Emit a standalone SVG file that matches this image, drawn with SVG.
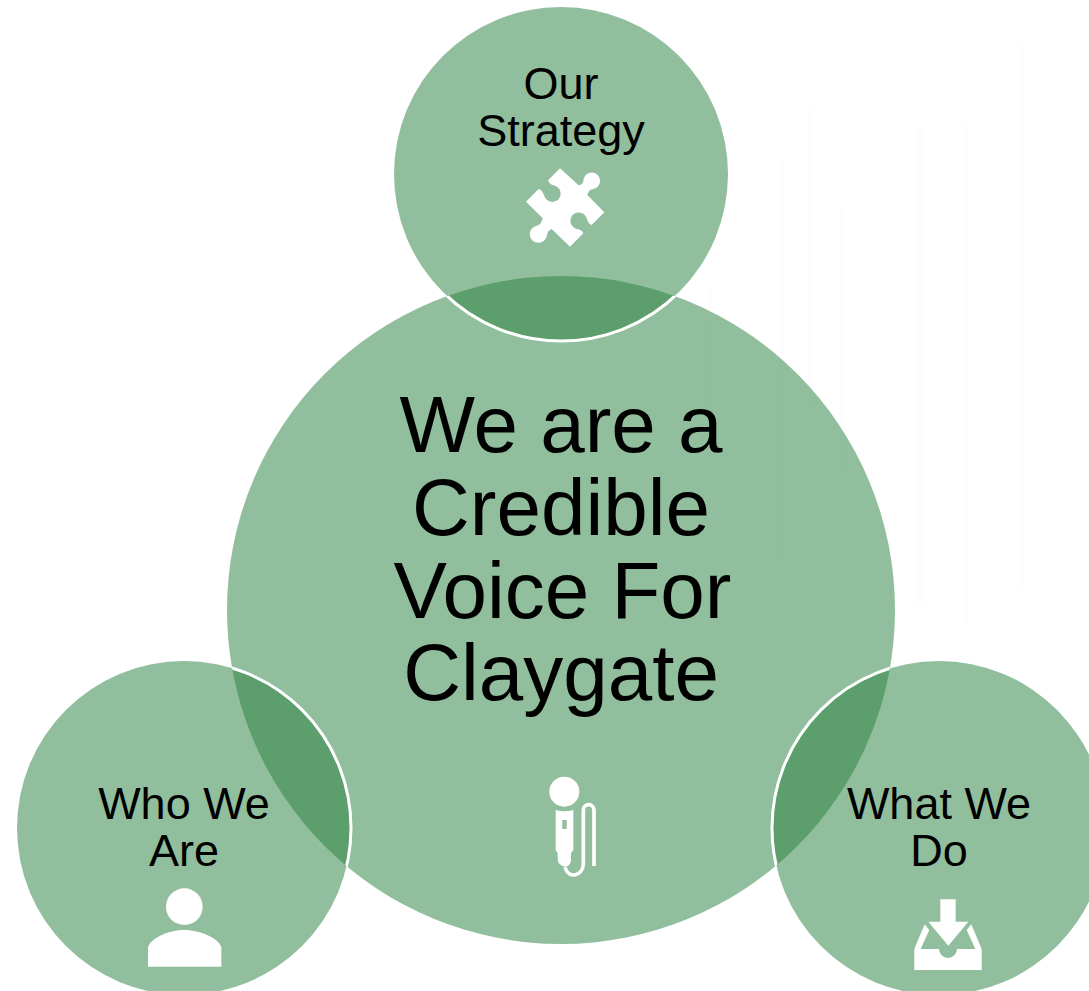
<svg xmlns="http://www.w3.org/2000/svg" width="1089" height="991" viewBox="0 0 1089 991">
<style>
.big{fill:#2C8341;fill-opacity:.52}
.sm{fill:#2C8341;fill-opacity:.52}
.ring{fill:none;stroke:#fff;stroke-width:3}
text{font-family:"Liberation Sans",Arial,sans-serif;fill:#000;text-anchor:middle}
.t1{font-size:80px}
.t2{font-size:45px}
.ic{fill:#fff}
.bg{fill:#fdfdfd}
</style>
<defs>
<clipPath id="inBig"><circle cx="561" cy="610" r="334"/></clipPath>
</defs>
<rect width="1089" height="991" fill="#fff"/>
<g id="background">
<rect class="bg" x="808" y="110" width="6" height="300"/>
<rect class="bg" x="778" y="160" width="6" height="400"/>
<rect class="bg" x="840" y="210" width="5" height="260"/>
<rect class="bg" x="917" y="125" width="5" height="480"/>
<rect class="bg" x="964" y="125" width="5" height="500"/>
<rect class="bg" x="1018" y="46" width="7" height="540"/>
<rect class="bg" x="708" y="290" width="4" height="130"/>
</g>
<g id="node-center">
<circle class="big" cx="561" cy="610" r="334"/>
<text class="t1" x="561" y="452">We are a</text>
<text class="t1" x="561" y="535">Credible</text>
<text class="t1" x="562.5" y="618">Voice For</text>
<text class="t1" x="561" y="700">Claygate</text>
<g transform="translate(520 760) scale(.3333)">
<circle class="ic" cx="133" cy="95" r="45"/>
<path class="ic" fill-rule="evenodd" d="M107 150Q133 158 160 150V270L153 280V302Q150 320 134 320Q115 318 113 298V280L107 270ZM127 180V207H140V180Z"/>
<path d="M222 318V150A16 16 0 0 0 190 150V310C190 350 145 358 135 322" fill="none" stroke="#fff" stroke-width="11"/>
</g>
</g>
<g id="node-top">
<circle class="sm" cx="561" cy="174" r="167"/>
<circle class="ring" cx="561" cy="174" r="167" clip-path="url(#inBig)"/>
<text class="t2" x="561" y="99">Our</text>
<text class="t2" x="561" y="146">Strategy</text>
<path class="ic" transform="translate(500 150) scale(.3333)" d="M180 55L235 105C247 106 250 98 251 87A25 25 0 1 1 280 117C272 118 266 121 262 135L313 187L275 225C267 222 263 215 260 205A25 25 0 1 0 228 236C238 238 248 241 250 250L210 290L155 237C147 240 142 245 141 256A26 26 0 1 1 110 227C118 226 124 220 128 205L78 155L115 118C124 118 128 125 133 138A25 25 0 1 0 165 107C155 105 145 100 145 90Z"/>
</g>
<g id="node-left">
<circle class="sm" cx="184" cy="828" r="167"/>
<circle class="ring" cx="184" cy="828" r="167" clip-path="url(#inBig)"/>
<text class="t2" x="184" y="819">Who We</text>
<text class="t2" x="184" y="866">Are</text>
<g transform="translate(130 870) scale(.3333)">
<circle class="ic" cx="163" cy="110" r="55"/>
<path class="ic" d="M54 290H274V235C274 210 215 180 163 180C110 180 54 210 54 235Z"/>
</g>
</g>
<g id="node-right">
<circle class="sm" cx="939" cy="828" r="167"/>
<circle class="ring" cx="939" cy="828" r="167" clip-path="url(#inBig)"/>
<text class="t2" x="939" y="819">What We</text>
<text class="t2" x="939" y="866">Do</text>
<g class="ic" transform="translate(890 880) scale(.3333)">
<path d="M151 58H197V125H235L175 197L115 125H151Z"/>
<path d="M73 270H275V207H201A27 27 0 0 1 147 207H73Z"/>
<path d="M73 207L104 133L118 150L92 207Z"/>
<path d="M275 207L244 133L230 150L256 207Z"/>
</g>
</g>
</svg>
